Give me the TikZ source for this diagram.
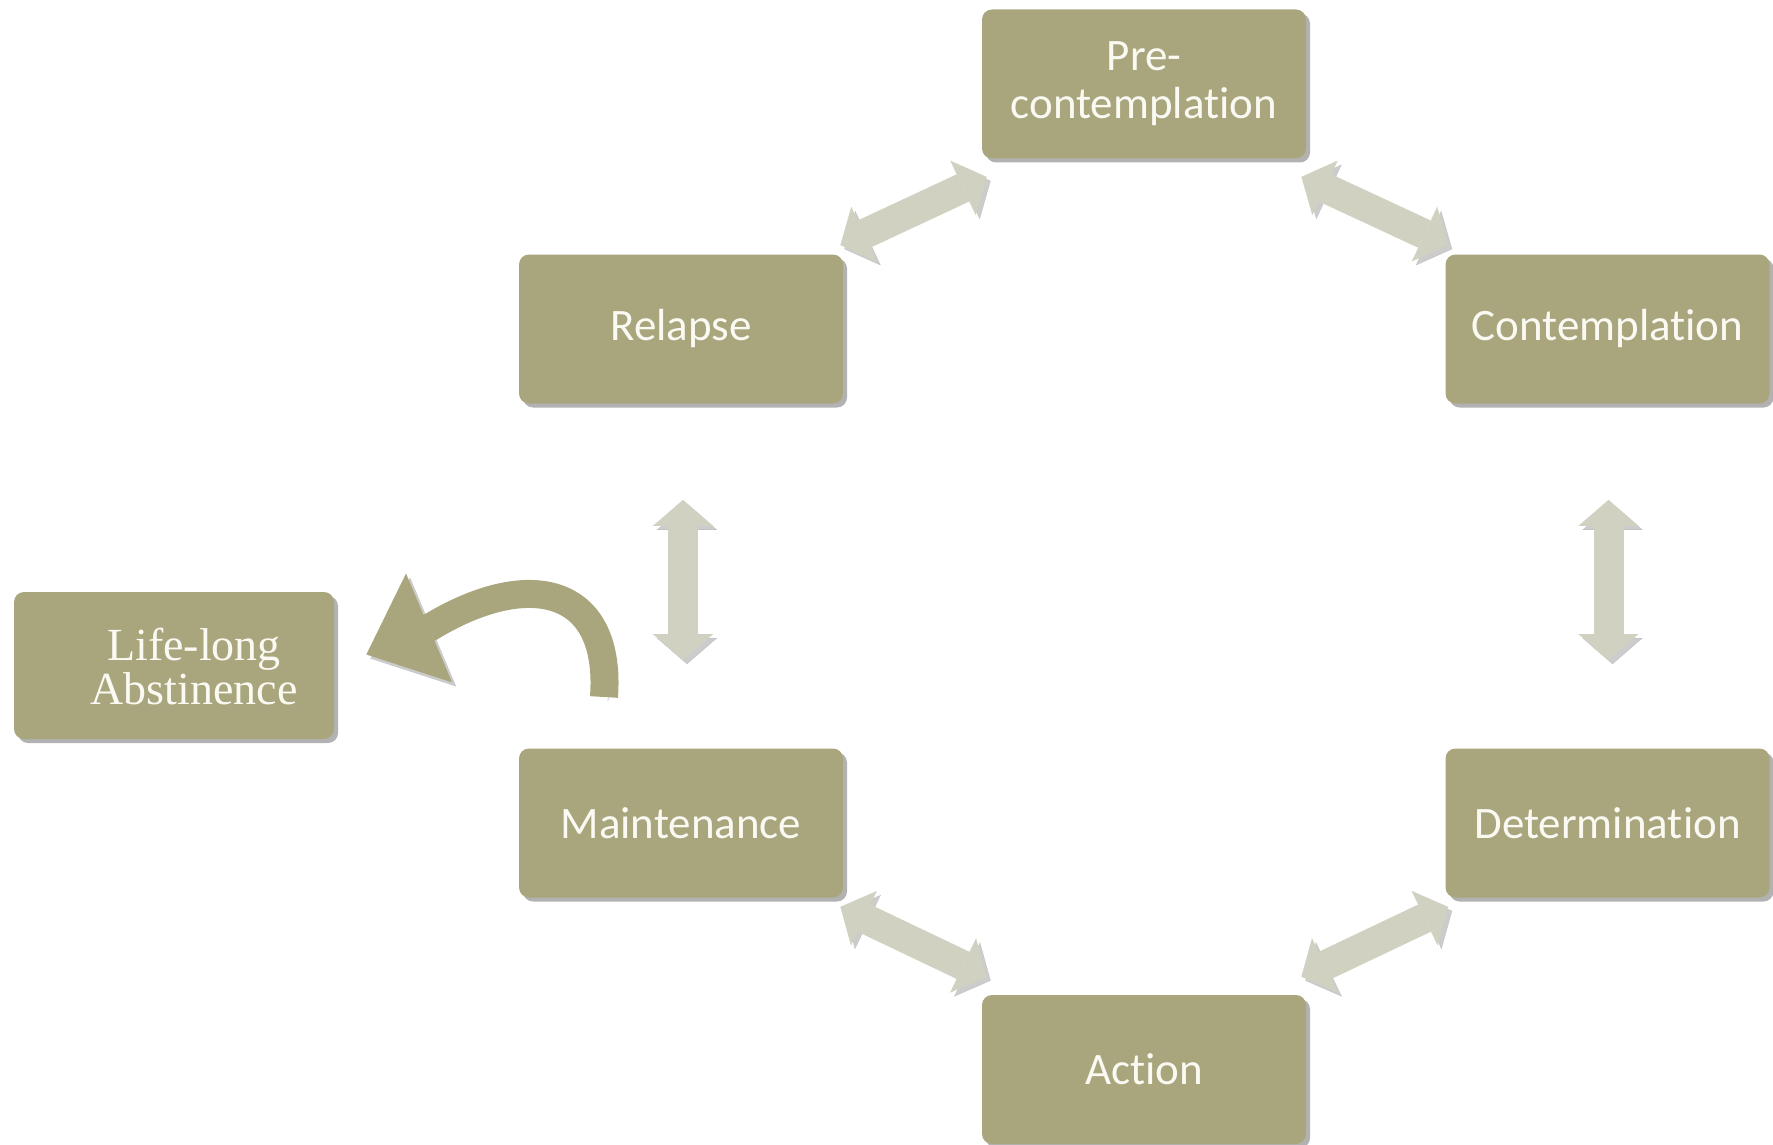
\documentclass[tikz,border=0pt]{standalone}
\usepackage{fontspec}
\setmainfont{Carlito}[Ligatures=NoCommon]
\newfontfamily\abstfont{Liberation Serif}
\usetikzlibrary{arrows.meta,shadows}

\definecolor{stageolive}{HTML}{A9A67E}
\definecolor{arrowgrey}{HTML}{D1D1C1}
\definecolor{stagetext}{HTML}{FAF9F2}

\tikzset{
  stage/.style={rectangle, rounded corners=5pt, fill=stageolive, text=stagetext,
    minimum width=162pt, minimum height=74.5pt, align=center,
    font=\fontsize{22.5}{24}\selectfont,
    drop shadow={shadow xshift=2pt, shadow yshift=-2pt, fill=black, opacity=0.3}},
  twoway/.style={line width=15pt, draw=arrowgrey,
    {Triangle[length=13pt,width=30pt,line width=0.1pt]}-{Triangle[length=13pt,width=30pt,line width=0.1pt]},
    preaction={draw=black!40, opacity=0.5, transform canvas={xshift=2pt,yshift=-2pt}}},
  bendarrow/.style={line width=14pt, draw=stageolive, line join=round,
    -{Triangle[length=34pt,width=59pt,line width=0.1pt]},
    preaction={draw=black!40, opacity=0.5, transform canvas={xshift=2pt,yshift=-2pt}}}
}

\begin{document}
\begin{tikzpicture}[x=0.5pt,y=-0.5pt]
\useasboundingbox (0,0) rectangle (1773,1145);

% Stages of the cycle
\node[stage] (pre) at (1144,84) {Pre-\\contemplation};
\node[stage] (contemp) at (1607.5,329) {Contemplation};
\node[stage] (determ) at (1607.5,823) {Determination};
\node[stage] (action) at (1144,1069.5) {Action};
\node[stage] (maint) at (681,823) {Maintenance};
\node[stage] (relapse) at (681,329) {Relapse};

% Way out of the cycle
\node[stage, minimum width=160pt, minimum height=73.5pt] (life) at (174,665.5) {};
\node[text=stagetext, font=\abstfont\fontsize{23}{22}\selectfont, align=center]
  (lifetext) at ([xshift=10pt,yshift=-0.5pt]life.center) {Life-long\\Abstinence};

% Two-way arrows between stages
\draw[twoway] ([xshift=-1.5pt,yshift=4.5pt]relapse.north east) -- ([xshift=2.5pt,yshift=-9pt]pre.south west);
\draw[twoway] ([xshift=-2.5pt,yshift=-9pt]pre.south east) -- ([xshift=1.5pt,yshift=4.5pt]contemp.north west);
\draw[twoway, shorten <=48pt, shorten >=44pt] ([xshift=0.5pt]contemp.south) -- ([xshift=0.5pt]determ.north);
\draw[twoway] ([xshift=1.5pt,yshift=-4.5pt]determ.south west) -- ([xshift=-2.5pt,yshift=9pt]action.north east);
\draw[twoway] ([xshift=2.5pt,yshift=9pt]action.north west) -- ([xshift=-1.5pt,yshift=-4.5pt]maint.south east);
\draw[twoway, shorten <=44pt, shorten >=48pt] ([xshift=1pt]maint.north) -- ([xshift=1pt]relapse.south);

% Curved arrow towards abstinence
\coordinate (bendtail) at (604,697);
\draw[bendarrow] (bendtail) .. controls (612,585) and (527,568) .. (429,628) -- ([xshift=16pt,yshift=5.5pt]life.east);

\end{tikzpicture}
\end{document}
